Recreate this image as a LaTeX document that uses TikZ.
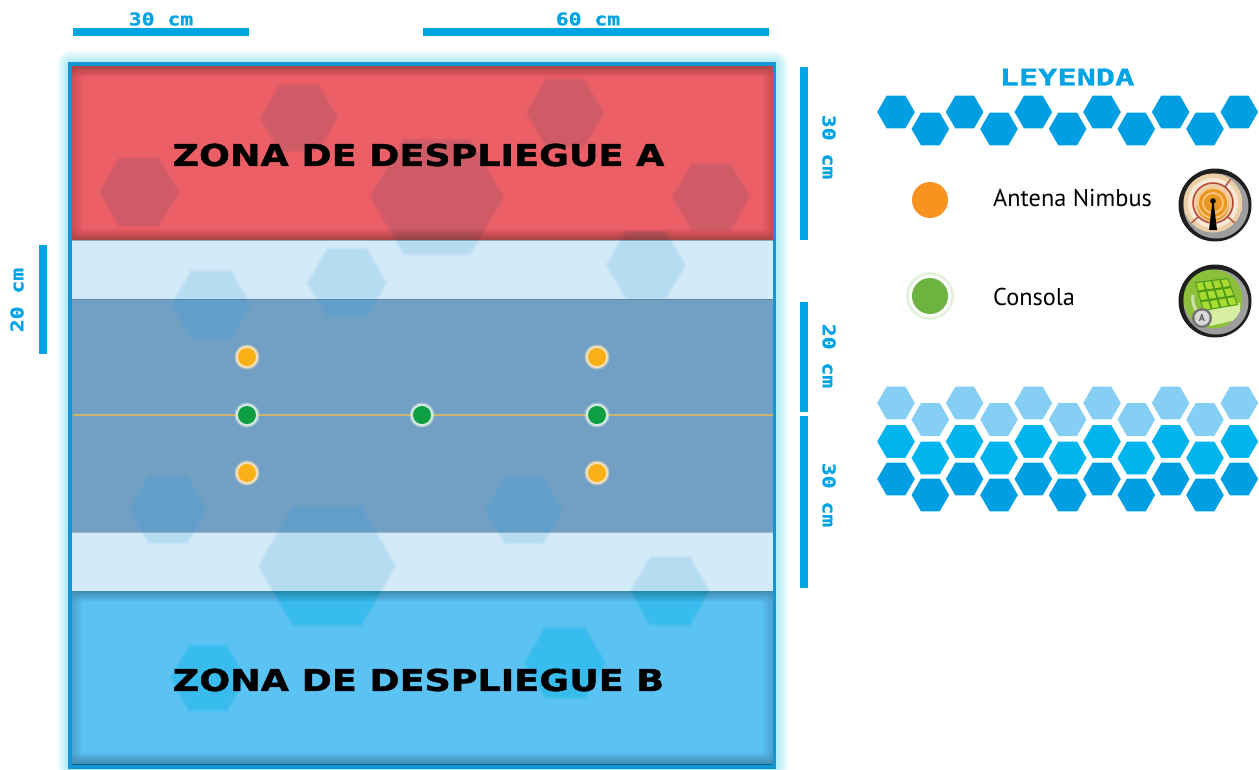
\documentclass[tikz,border=0pt]{standalone}
\usepackage{fontspec}
\setmainfont{PT Sans}
\newfontfamily\zonefont[FakeStretch=1.215,FakeBold=1.4]{DejaVu Sans}
\newfontfamily\dimfont[FakeStretch=1.22,FakeBold=1]{DejaVu Sans Mono}
\newfontfamily\leyfont[FakeStretch=1.39,FakeBold=1]{DejaVu Sans Mono}
\usetikzlibrary{calc}
\definecolor{dimblue}{HTML}{00A3E4}
\definecolor{hexa}{HTML}{009FE3}
\definecolor{hexb}{HTML}{00B4EE}
\definecolor{hexc}{HTML}{85CFF5}
\definecolor{rim}{HTML}{1496D5}
\definecolor{zonered}{HTML}{EC5F67}
\definecolor{zonepale}{HTML}{D3EAF8}
\definecolor{zonemid}{HTML}{72A0C5}
\definecolor{zonesky}{HTML}{5BC3F3}
\definecolor{hexred}{HTML}{CF5B67}
\definecolor{hexpale}{HTML}{B6DCF2}
\definecolor{hexmid}{HTML}{619EC9}
\definecolor{hexsky}{HTML}{38BCEE}
\definecolor{dotorange}{HTML}{FBB017}
\definecolor{dotgreen}{HTML}{0E9F42}
\definecolor{legorange}{HTML}{F7931E}
\definecolor{leggreen}{HTML}{6CB33F}
\definecolor{centreline}{HTML}{C8B66A}
\definecolor{icontan}{HTML}{EBCFA6}
\definecolor{iconamber}{HTML}{E8981E}
\definecolor{icondeep}{HTML}{C9660F}
\definecolor{iconbrick}{HTML}{B5483A}
\definecolor{iconleaf}{HTML}{8CBF3A}
\definecolor{iconlime}{HTML}{A9DC30}
\definecolor{icongrid}{HTML}{4F9A18}
\newcommand{\hexat}[4]{\fill[#4] ({#1+(#3)},#2) -- ({#1+(#3)*.5},{#2+(#3)*.866}) -- ({#1-(#3)*.5},{#2+(#3)*.866}) -- ({#1-(#3)},#2) -- ({#1-(#3)*.5},{#2-(#3)*.866}) -- ({#1+(#3)*.5},{#2-(#3)*.866}) -- cycle;}
\newcommand{\boardhexes}[2]{%
  \hexat{299}{118}{38+#2}{#1}\hexat{139}{192}{39+#2}{#1}\hexat{565}{113}{38+#2}{#1}%
  \hexat{437}{197}{66+#2}{#1}\hexat{711}{197}{38+#2}{#1}\hexat{347}{283}{39+#2}{#1}%
  \hexat{646}{265}{39+#2}{#1}\hexat{211}{305}{39+#2}{#1}\hexat{168}{510}{38+#2}{#1}%
  \hexat{524}{510}{38+#2}{#1}\hexat{327}{566}{68+#2}{#1}\hexat{670}{591}{39+#2}{#1}%
  \hexat{208}{678}{37+#2}{#1}\hexat{565}{663}{40+#2}{#1}}
\newcommand{\hexrow}[3]{% y-high, y-low, colour
  \foreach \i in {0,...,10}{%
    \pgfmathsetmacro{\hx}{896+34.33*\i}%
    \ifodd\i \hexat{\hx}{#2}{18.8}{#3}\else \hexat{\hx}{#1}{18.8}{#3}\fi}}
\newcommand{\band}[4]{% y1,y2,fill,hex
  \begin{scope}
    \clip (72,#1) rectangle (773,#2);
    \fill[#3] (72,#1) rectangle (773,#2);
    \boardhexes{#4!35!#3}{2}
    \boardhexes{#4!70!#3}{0.5}
    \boardhexes{#4}{-1}
  \end{scope}}
\newcommand{\bandshade}[2]{% inner shadow of the two deployment zones
  \begin{scope}
    \clip (72,#1) rectangle (773,#2);
    \foreach \w in {2,4,...,22}{
      \draw[black,opacity=.011,line width=\w pt] (72,#1) rectangle (773,#2);
      \draw[black,opacity=.012,line width=\w pt] (60,#1) rectangle (785,#2);}
  \end{scope}}
\tikzset{
  dimbar/.style={fill=dimblue},
  dimlabel/.style={text=dimblue,font=\dimfont\bfseries\fontsize{17.5}{18}\selectfont,inner sep=0pt},
  zonelabel/.style={text=black,font=\zonefont\bfseries\fontsize{30}{32}\selectfont,inner sep=0pt},
  legendtext/.style={text=black,font=\fontsize{24.3}{26}\selectfont,anchor=base west,inner sep=0pt},
  boarddot/.style={circle,minimum size=18pt,inner sep=0pt,
    preaction={draw=#1,opacity=.4,line width=7pt},
    preaction={draw=#1,opacity=.85,line width=4.5pt}},
  orangedot/.style={boarddot=white!70!dotorange,fill=dotorange},
  greendot/.style={boarddot=white!85!dotgreen,fill=dotgreen},
  icongrain/.style={line width=1.3pt,iconbrick},
}
\begin{document}
\begin{tikzpicture}[x=1pt,y=-1pt]
\useasboundingbox (0,0) rectangle (1259,769);
\fill[white] (0,0) rectangle (1259,769);
% glow
\foreach \w in {28,24,...,2}{\draw[rim!50!cyan,opacity=.06,line width=\w pt,line join=round] (71,65) rectangle (774,767);}
\fill[rim] (68,62) rectangle (776,769);
% bands
\band{66}{240}{zonered}{hexred}
\band{240}{299}{zonepale}{hexpale}
\band{299}{532}{zonemid}{hexmid}
\band{532}{591}{zonepale}{hexpale}
\band{591}{764}{zonesky}{hexsky}
\bandshade{66}{240}
\bandshade{591}{764}
\draw[black!45!zonemid,opacity=.35,line width=.8pt] (72,299) -- (773,299) (72,532) -- (773,532);
% centre line and markers
\coordinate (lineW) at (73,415);
\coordinate (lineE) at (773,415);
\draw[draw=centreline,line width=1.2pt] (lineW) -- (lineE);
\node[orangedot] (o1) at (247,357) {};
\node[orangedot] (o2) at (597,357) {};
\node[orangedot] (o3) at (247,473) {};
\node[orangedot] (o4) at (597,473) {};
\node[greendot] (g1) at (247,415) {};
\node[greendot] (g2) at (422,415) {};
\node[greendot] (g3) at (597,415) {};
% zone labels
\node[zonelabel] (zoneA) at (418.5,155) {ZONA DE DESPLIEGUE A};
\node[zonelabel] (zoneB) at (418.5,680) {ZONA DE DESPLIEGUE B};
% dimension bars
\fill[dimbar] (73,28) rectangle (249,36);
\fill[dimbar] (423,28) rectangle (769,36);
\fill[dimbar] (39,245) rectangle (47,354);
\fill[dimbar] (800,67) rectangle (808,240);
\fill[dimbar] (800,302) rectangle (808,412);
\fill[dimbar] (800,416) rectangle (808,588);
\node[dimlabel] (d1) at (161,19) {30 cm};
\node[dimlabel] (d2) at (588,19) {60 cm};
\node[dimlabel,rotate=90] (d3) at (17,300) {20 cm};
\node[dimlabel,rotate=-90] (d4) at (829,147) {30 cm};
\node[dimlabel,rotate=-90] (d5) at (829,356) {20 cm};
\node[dimlabel,rotate=-90] (d6) at (829,495) {30 cm};
% legend
\node[text=dimblue,font=\leyfont\bfseries\fontsize{23}{24}\selectfont,inner sep=0pt] (ley) at (1067,77) {LEYENDA};
\hexrow{112}{129}{hexa}
\hexrow{403}{419.5}{hexc}
\hexrow{441.5}{458}{hexb}
\hexrow{479}{495}{hexa}
\fill[leggreen!18] (930,296) circle (24);
\fill[white] (930,296) circle (21);
\node[circle,fill=legorange,minimum size=36pt,inner sep=0pt] (lo) at (930,200) {};
\node[circle,fill=leggreen,minimum size=36pt,inner sep=0pt] (lg) at (930,296) {};
\node[legendtext] (t1) at (993,206) {Antena Nimbus};
\node[legendtext] (t2) at (993,305) {Consola};
% antenna icon
\fill[black!88] (1215,205) circle (36.5);
\fill[black!38] (1216,206) circle (32.5);
\begin{scope}
\clip (1213,203) circle (29.5);
\fill[icontan] (1213,203) circle (29.5);
\fill[white!55!icontan] (1213,203) circle (25);
\fill[icontan] (1213,203) circle (21);
\fill[iconamber] (1213,205) circle (16);
\draw[white!55!orange,line width=1.7pt] (1213,203) circle (10);
\draw[white!55!orange,line width=1.7pt] (1213,203) circle (15);
\draw[iconbrick,line width=1.5pt] (1213,203) circle (20);
\draw[icongrain] (1198,217) -- (1188,226) (1228,217) -- (1238,226) (1225,187) -- (1235,173);
\end{scope}
\fill[black] (1213,201) circle (2.8);
\fill[black] (1212.4,202) -- (1213.6,202) -- (1217,230) -- (1209,230) -- cycle;
% console icon
\fill[black!88] (1215,301) circle (36.5);
\fill[black!38] (1216,302) circle (32.5);
\begin{scope}
\clip (1213,299) circle (29.5);
\fill[iconleaf] (1213,299) circle (29.5);
\draw[white!55!iconleaf,line width=3pt] (1193,295) arc (190:70:21);
\fill[white!55!iconlime] (1204,309) -- (1240,303) -- (1240,319) -- (1210,326) -- cycle;
\fill[icongrid] (1195,282) -- (1228,278) -- (1238,305) -- (1203,311) -- cycle;
\foreach \i/\j in {0/1,1/2,2/3,3/4}{
  \foreach \k/\l in {0/1,1/2,2/3}{
    \pgfmathsetmacro{\ua}{(\i+.12)/4}\pgfmathsetmacro{\ub}{(\j-.12)/4}
    \pgfmathsetmacro{\va}{(\k+.12)/3}\pgfmathsetmacro{\vb}{(\l-.12)/3}
    \fill[iconlime] ($($(1195,282)!\ua!(1228,278)$)!\va!($(1203,311)!\ua!(1238,305)$)$)
      -- ($($(1195,282)!\ub!(1228,278)$)!\va!($(1203,311)!\ub!(1238,305)$)$)
      -- ($($(1195,282)!\ub!(1228,278)$)!\vb!($(1203,311)!\ub!(1238,305)$)$)
      -- ($($(1195,282)!\ua!(1228,278)$)!\vb!($(1203,311)!\ua!(1238,305)$)$) -- cycle;
  }}
\end{scope}
\fill[black!55] (1202,318) circle (10);
\fill[white!85!black] (1202,318) circle (7.5);
\node[text=black!65,font=\fontsize{10}{10}\selectfont\bfseries,inner sep=0pt] (badge) at (1202,318) {A};
\end{tikzpicture}
\end{document}
